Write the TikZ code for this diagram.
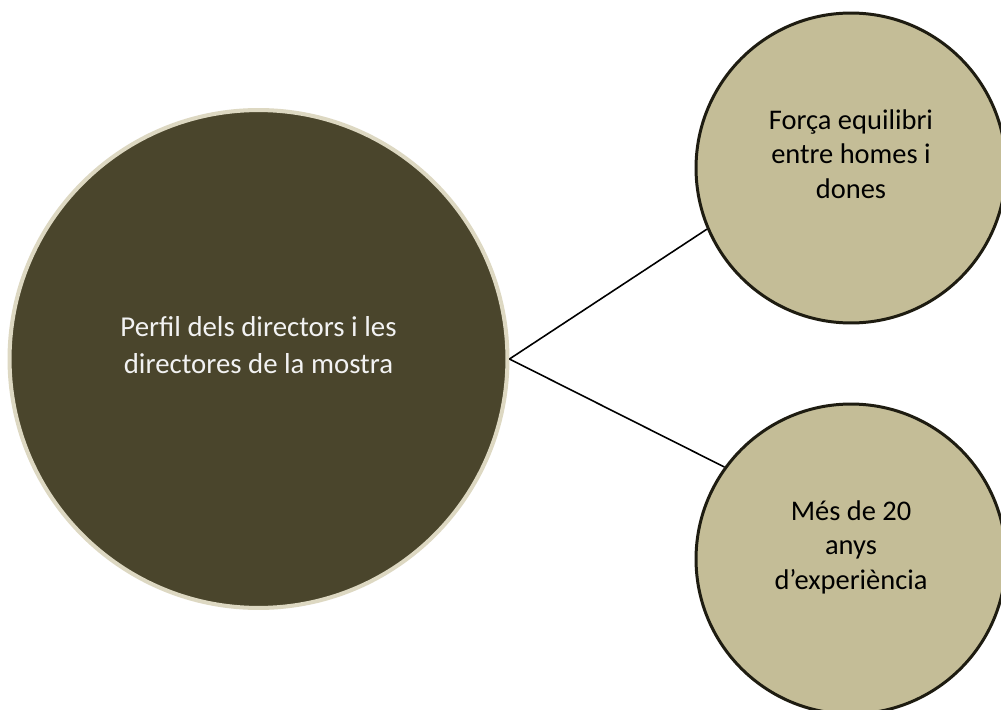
\documentclass[tikz,border=0pt]{standalone}
\usepackage{fontspec}
\setmainfont{Carlito}
\usepackage{tikz}
\usetikzlibrary{positioning}
\definecolor{olivedark}{HTML}{4A452C}
\definecolor{olivelight}{HTML}{DDD8C2}
\definecolor{tanfill}{HTML}{C4BD97}
\definecolor{tanedge}{HTML}{1E1C11}
\tikzset{
    mainbubble/.style={circle, draw=olivelight, line width=2.3pt, fill=olivedark, text=white!95!black, align=center, minimum size=9.96cm, inner sep=0pt, font=\fontsize{16.4}{21}\selectfont},
    sidebubble/.style={circle, draw=tanedge, line width=1.7pt, fill=tanfill, text=black, align=center, minimum size=6.2cm, inner sep=0pt, font=\fontsize{16.2}{19.8}\selectfont},
    link/.style={line width=0.9pt, black}
}
\begin{document}
\begin{tikzpicture}[x=0.02cm, y=-0.02cm]

    \clip (0,0) rectangle (1001,710);
    \fill[white] (0,0) rectangle (1001,710);

    % Nodes
    \node (profile) [mainbubble, text height=28pt, text depth=12pt] at (258.5,359) {Perfil dels directors i les\\directores de la mostra};
    \node (balance) [sidebubble, text height=41pt, text depth=6pt] at (851,168) {Força equilibri\\entre homes i\\dones};
    \node (experience) [sidebubble, text height=41pt, text depth=6pt] at (851,559) {Més de 20\\anys\\d’experiència};

    % Connections
    \draw [link] (profile.east) -- (balance.203.7);
    \draw [link] (profile.east) -- (experience.144.3);

\end{tikzpicture}
\end{document}
